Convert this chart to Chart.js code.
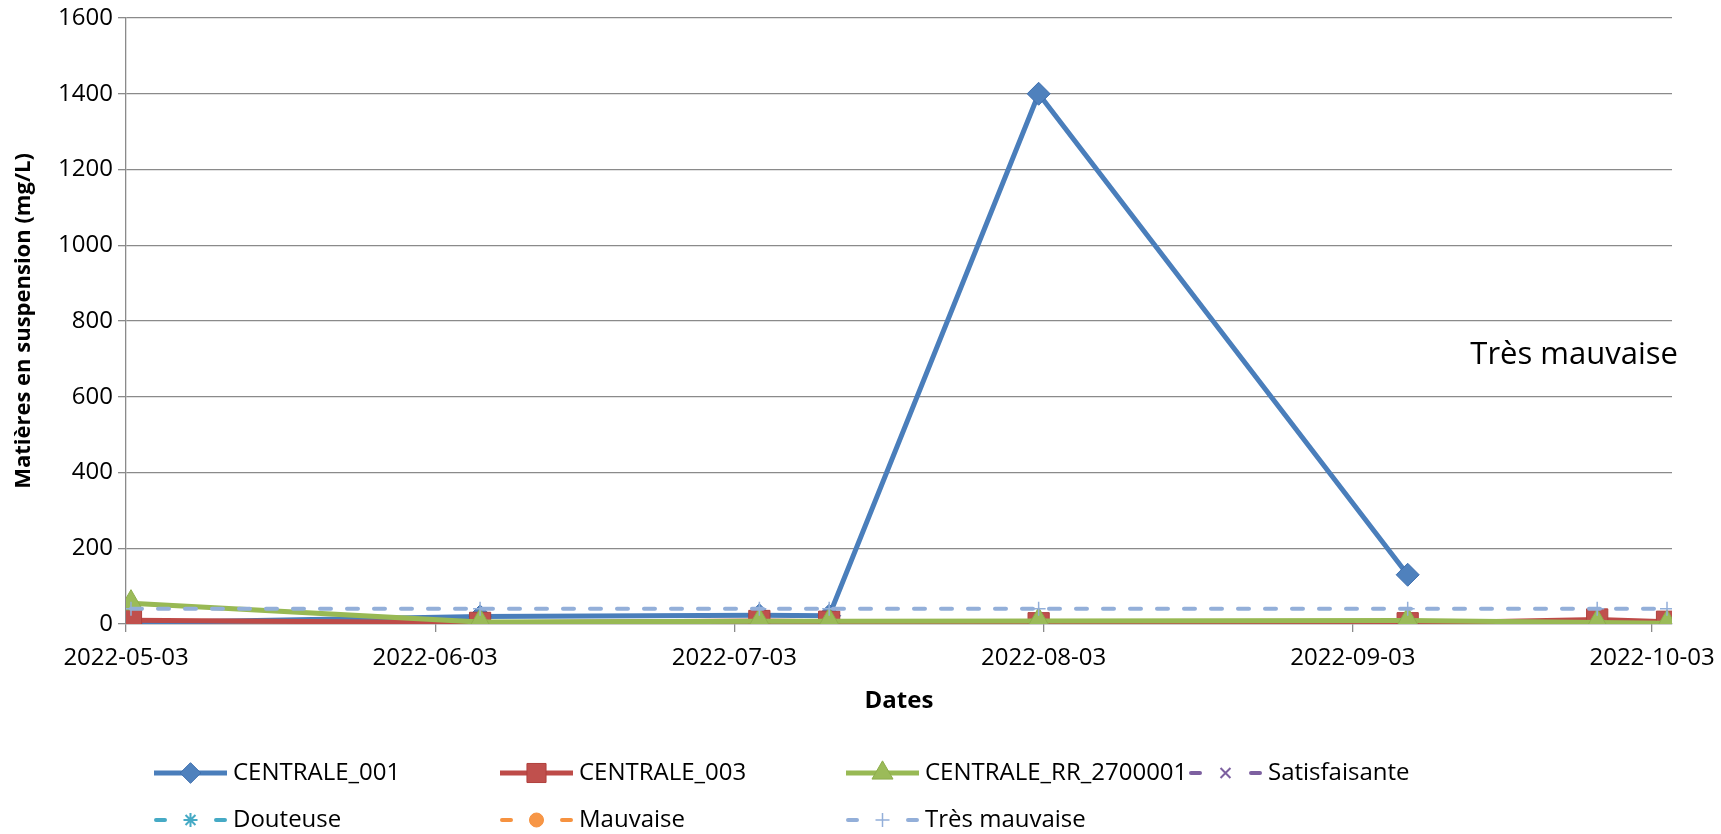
<!DOCTYPE html>
<html lang="fr">
<head>
<meta charset="utf-8">
<title>Matières en suspension</title>
<script src="https://cdn.jsdelivr.net/npm/chart.js@4.4.1/dist/chart.umd.min.js"></script>
<style>
  html, body { margin: 0; padding: 0; background: #ffffff; }
  #wrap { width: 1721px; height: 834px; }
</style>
</head>
<body>
<div id="wrap"><canvas id="chart" width="1721" height="834"></canvas></div>
<script>
// Sampling dates and measured suspended matter (mg/L)
const sampleDates = ['2022-05-03', '2022-06-07', '2022-07-05', '2022-07-12', '2022-08-02', '2022-09-08', '2022-09-27', '2022-10-04'];
const centrale001 = [3, 20, 23, 22, 1400, 130, null, null];
const centrale003 = [10, 3, 8, 6, 2, 2, 12, 6];
const centraleRR2700001 = [55, 5, 7, 7, 8, 9, 4, 2];

// Quality class thresholds
const satisfaisante = [];
const douteuse = [];
const mauvaise = [];
const tresMauvaise = [40, 40, 40, 40, 40, 40, 40, 40];

// Date axis
const axisStart = '2022-05-03';
const axisEnd = '2022-10-05';
const tickDates = ['2022-05-03', '2022-06-03', '2022-07-03', '2022-08-03', '2022-09-03', '2022-10-03'];

// Value axis
const yMin = 0;
const yMax = 1600;
const yStep = 200;

// Class label shown inside the plot
const classLabel = 'Très mauvaise';
const classLabelValue = 710;

const DAY = 86400000;
const dayOf = d => (Date.parse(d) - Date.parse(axisStart)) / DAY;
// each day occupies one slot; samples sit in the middle of their day
const toPoints = values => values.map((v, i) => ({ x: dayOf(sampleDates[i]) + 0.5, y: v }));

Chart.defaults.font.family = "'Open Sans', 'DejaVu Sans', sans-serif";
Chart.defaults.color = '#000000';

const GRID = '#8a8a8a';

const datasets = [
  { label: 'CENTRALE_001', data: toPoints(centrale001), borderColor: '#4A7EBB', backgroundColor: '#4F81BD',
    borderWidth: 5, pointStyle: 'rectRot', pointRadius: 11.5, pointBorderWidth: 1, pointBorderColor: '#3F6FAE' },
  { label: 'CENTRALE_003', data: toPoints(centrale003), borderColor: '#BE4B48', backgroundColor: '#C0504D',
    borderWidth: 5, pointStyle: 'rect', pointRadius: 15, pointBorderWidth: 1, pointBorderColor: '#B0403D' },
  { label: 'CENTRALE_RR_2700001', data: toPoints(centraleRR2700001), borderColor: '#98B954', backgroundColor: '#9BBB59',
    borderWidth: 5, pointStyle: 'triangle', pointRadius: 13.5, pointBorderWidth: 1, pointBorderColor: '#8DAD4C' },
  { label: 'Satisfaisante', data: toPoints(satisfaisante), borderColor: '#7D60A0', backgroundColor: '#8064A2',
    borderWidth: 4, borderDash: [11, 16], pointStyle: 'crossRot', pointRadius: 7, pointBorderWidth: 2, pointBorderColor: '#7D60A0' },
  { label: 'Douteuse', data: toPoints(douteuse), borderColor: '#46AAC5', backgroundColor: '#4BACC6',
    borderWidth: 4, borderDash: [11, 16], pointStyle: 'star', pointRadius: 7, pointBorderWidth: 2, pointBorderColor: '#46AAC5' },
  { label: 'Mauvaise', data: toPoints(mauvaise), borderColor: '#F69240', backgroundColor: '#F79646',
    borderWidth: 4, borderDash: [11, 16], pointStyle: 'circle', pointRadius: 7, pointBorderWidth: 1, pointBorderColor: '#F69240' },
  { label: 'Très mauvaise', data: toPoints(tresMauvaise), borderColor: '#93AFD9', backgroundColor: '#93AFD9',
    borderWidth: 4, borderDash: [11, 16], borderCapStyle: 'round', pointStyle: 'cross', pointRadius: 7, pointBorderWidth: 1.5, pointBorderColor: '#93AFD9' }
];
// later series are painted over earlier ones
datasets.forEach((ds, i) => {
  ds.order = datasets.length - i;
  ds.tension = 0;
  ds.fill = false;
  ds.pointHoverRadius = ds.pointRadius;
  if (!ds.borderCapStyle) ds.borderCapStyle = 'butt';
});

// Legend laid out on a fixed grid of columns below the axis title
const gridLegend = {
  id: 'gridLegend',
  afterDraw(chart) {
    const ctx = chart.ctx;
    const colX = [154, 500, 846, 1189];
    const rowY = [773, 820];
    const sampleLen = 73;
    ctx.save();
    ctx.font = "24px 'Open Sans'";
    ctx.textBaseline = 'middle';
    ctx.textAlign = 'left';
    chart.data.datasets.forEach((ds, i) => {
      const x0 = colX[i % 4];
      const y = rowY[Math.floor(i / 4)];
      ctx.save();
      ctx.strokeStyle = ds.borderColor;
      ctx.lineWidth = ds.borderWidth;
      ctx.lineCap = ds.borderDash ? 'round' : 'butt';
      if (ds.borderDash) {
        const dash = 9;
        ctx.setLineDash([dash, sampleLen - 2 * dash - 4]);
        ctx.beginPath();
        ctx.moveTo(x0 + 2, y);
        ctx.lineTo(x0 + sampleLen, y);
        ctx.stroke();
      } else {
        ctx.beginPath();
        ctx.moveTo(x0, y);
        ctx.lineTo(x0 + sampleLen, y);
        ctx.stroke();
      }
      ctx.restore();
      ctx.save();
      ctx.fillStyle = ds.backgroundColor;
      ctx.strokeStyle = ds.pointBorderColor;
      ctx.lineWidth = ds.pointBorderWidth;
      const r = ds.borderDash ? ds.pointRadius : ds.pointRadius * 0.9;
      Chart.helpers.drawPoint(ctx, { pointStyle: ds.pointStyle, radius: r, borderWidth: ds.pointBorderWidth, rotation: 0 }, x0 + sampleLen / 2, y);
      ctx.restore();
      ctx.fillStyle = '#000000';
      ctx.fillText(ds.label, x0 + sampleLen + 6, y);
    });
    ctx.restore();
  }
};

// Class name written at its level inside the plot
const classText = {
  id: 'classText',
  afterDatasetsDraw(chart) {
    const { ctx, chartArea, scales } = chart;
    const y = scales.y.getPixelForValue(classLabelValue);
    ctx.save();
    ctx.font = "31px 'Open Sans'";
    ctx.fillStyle = '#000000';
    ctx.textAlign = 'right';
    ctx.textBaseline = 'middle';
    ctx.fillText(classLabel, chartArea.right + 6, y);
    ctx.restore();
  }
};

new Chart(document.getElementById('chart'), {
  type: 'line',
  data: { datasets },
  options: {
    responsive: false,
    devicePixelRatio: 1,
    animation: false,
    events: [],
    layout: { padding: { left: 0, top: 18, right: 49, bottom: 118 } },
    plugins: { legend: { display: false }, tooltip: { enabled: false } },
    scales: {
      x: {
        type: 'linear',
        min: dayOf(axisStart),
        max: dayOf(axisEnd),
        afterBuildTicks: axis => { axis.ticks = tickDates.map(d => ({ value: dayOf(d) })); },
        afterFit: axis => { axis.height = 92; axis.paddingLeft = 0; axis.paddingRight = 0; },
        ticks: {
          autoSkip: false,
          maxRotation: 0,
          padding: 12,
          font: { size: 24 },
          color: '#000000',
          callback: (value) => {
            const idx = tickDates.findIndex(d => dayOf(d) === value);
            return idx >= 0 ? tickDates[idx] : '';
          }
        },
        grid: { display: true, drawOnChartArea: false, drawTicks: true, tickLength: 8, color: GRID, lineWidth: 1.3 },
        border: { display: true, color: GRID, width: 1.3 },
        title: { display: true, text: 'Dates', font: { size: 24, weight: 'bold' }, color: '#000000', padding: { top: 0, bottom: 0 } }
      },
      y: {
        min: yMin,
        max: yMax,
        afterFit: axis => { axis.width = 126; axis.paddingTop = 0; axis.paddingBottom = 0; },
        ticks: { stepSize: yStep, padding: 5, font: { size: 24 }, color: '#000000', callback: v => String(v) },
        grid: { color: GRID, lineWidth: 1.3, tickLength: 8 },
        border: { display: true, color: GRID, width: 1.3 },
        title: { display: true, text: 'Matières en suspension (mg/L)', font: { size: 22, weight: 'bold' }, color: '#000000', padding: { top: 11, bottom: 0 } }
      }
    }
  },
  plugins: [gridLegend, classText]
});
</script>
</body>
</html>
